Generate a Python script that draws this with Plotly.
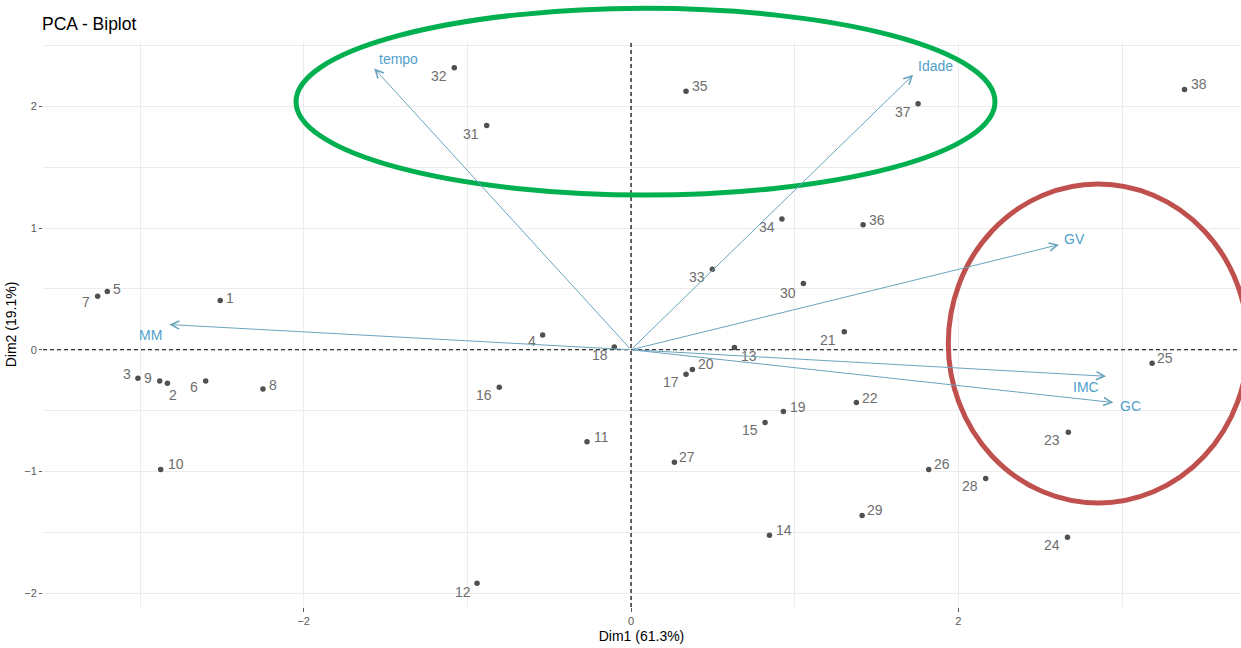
import plotly.graph_objects as go

# ---------------- data ----------------
ind_labels = [str(i) for i in range(1, 39)]
dim1 = [-2.510, -2.833, -3.013, -0.540, -3.200, -2.599, -3.259, -2.249, -2.880, -2.874,
        -0.269, -0.941, 0.632, 0.846, 0.819, -0.805, 0.336, -0.102, 0.931, 0.375,
        1.303, 1.377, 2.672, 2.667, 3.184, 1.819, 0.265, 2.167, 1.412, 1.053,
        -0.882, -1.080, 0.497, 0.922, 0.336, 1.418, 1.754, 3.382]
dim2 = [0.404, -0.275, -0.234, 0.122, 0.478, -0.256, 0.439, -0.322, -0.256, -0.984,
        -0.757, -1.920, 0.018, -1.526, -0.598, -0.308, -0.201, 0.023, -0.508, -0.163,
        0.148, -0.434, -0.678, -1.542, -0.111, -0.984, -0.926, -1.058, -1.362, 0.544,
        1.844, 2.318, 0.661, 1.074, 2.126, 1.028, 2.022, 2.140]

var_names = ["MM", "tempo", "Idade", "GV", "IMC", "GC"]
var_dim1 = [-2.821, -1.569, 1.724, 2.615, 2.903, 2.947]
var_dim2 = [0.207, 2.312, 2.260, 0.864, -0.218, -0.434]

x_title = "Dim1 (61.3%)"
y_title = "Dim2 (19.1%)"
chart_title = "PCA - Biplot"

# ---------------- label placement (pixel offsets, dx right, dy down) ----------------
ind_label_offsets = [
    (10, -3), (6, 12), (-11, -4), (-11, 6), (10, -3), (-12, 6), (-12, 6), (10, -4), (-12, -3), (15, -5),
    (14, -5), (-14, 9), (15, 8), (15, -5), (-15, 8), (-15, 8), (-15, 8), (-14, 8), (15, -5), (14, -6),
    (-16, 8), (14, -5), (-16, 8), (-16, 8), (13, -5), (13, -5), (13, -5), (-16, 8), (13, -5), (-15, 9),
    (-16, 9), (-15, 8), (-15, 8), (-15, 8), (14, -5), (14, -5), (-15, 8), (14, -5),
]
var_label_offsets = [(-19, 10), (24, -10), (22, -9), (16, -6), (-20, 11), (17, 3)]

ind_color = "#505050"
ind_text_color = "#6e6e6e"
var_line_color = "#6aa3bd"
var_text_color = "#4f9fca"
FONT = "Liberation Sans, Arial, sans-serif"

fig = go.Figure()

fig.add_trace(go.Scatter(
    x=dim1, y=dim2, mode="markers",
    marker=dict(color=ind_color, size=5.5),
    hoverinfo="text", text=ind_labels, showlegend=False,
))

annotations = []
for lab, xv, yv, (dx, dy) in zip(ind_labels, dim1, dim2, ind_label_offsets):
    annotations.append(dict(
        x=xv, y=yv, xref="x", yref="y", text=lab, showarrow=False,
        xshift=dx, yshift=-dy, xanchor="center", yanchor="middle",
        font=dict(family=FONT, size=14, color=ind_text_color),
    ))

for name, xv, yv, (dx, dy) in zip(var_names, var_dim1, var_dim2, var_label_offsets):
    annotations.append(dict(
        x=xv, y=yv, xref="x", yref="y", ax=0, ay=0, axref="x", ayref="y",
        text="", showarrow=True, arrowhead=5, arrowsize=1.6, arrowwidth=1,
        arrowcolor=var_line_color, standoff=0,
    ))
    annotations.append(dict(
        x=xv, y=yv, xref="x", yref="y", text=name, showarrow=False,
        xshift=dx, yshift=-dy, xanchor="center", yanchor="middle",
        font=dict(family=FONT, size=14, color=var_text_color),
    ))

shapes = [
    dict(type="line", xref="x", yref="paper", x0=0, x1=0, y0=0, y1=1,
         line=dict(color="black", width=1.2, dash="4px,3px"), layer="above"),
    dict(type="line", xref="paper", yref="y", x0=0, x1=1, y0=0, y1=0,
         line=dict(color="black", width=1.2, dash="4px,3px"), layer="above"),
    # highlight ellipses
    dict(type="circle", xref="paper", yref="paper", x0=0.2114, x1=0.7953, y0=0.7292, y1=1.0596,
         line=dict(color="#00B050", width=5)),
    dict(type="circle", xref="paper", yref="paper", x0=0.7563, x1=1.0067, y0=0.1841, y1=0.7487,
         line=dict(color="#C0504D", width=5)),
]

axis_font = dict(family=FONT, size=11, color="#5a5a5a")
grid_col = "#ececec"

fig.update_layout(
    width=1241, height=648,
    margin=dict(l=43, r=1, t=42, b=41, autoexpand=False),
    paper_bgcolor="white", plot_bgcolor="white",
    title=dict(text=chart_title, x=42 / 1241, xref="container", xanchor="left",
               y=1 - 24 / 648, yref="container", yanchor="middle",
               font=dict(family=FONT, size=17.5, color="black")),
    annotations=annotations, shapes=shapes,
    xaxis=dict(
        range=[-3.593, 3.721], tickmode="linear", tick0=0, dtick=2,
        showgrid=True, gridcolor=grid_col, gridwidth=1, zeroline=False,
        minor=dict(dtick=1, tick0=0, showgrid=True, gridcolor=grid_col, gridwidth=1),
        ticks="outside", ticklen=4, tickcolor="#5a5a5a", tickwidth=1,
        tickfont=axis_font, showline=False, automargin=False,
        title=dict(text=x_title, standoff=4, font=dict(family=FONT, size=14, color="black")),
    ),
    yaxis=dict(
        range=[-2.115, 2.53], tickmode="linear", tick0=0, dtick=1,
        showgrid=True, gridcolor=grid_col, gridwidth=1, zeroline=False,
        minor=dict(dtick=0.5, tick0=0, showgrid=True, gridcolor=grid_col, gridwidth=1),
        ticks="outside", ticklen=3, tickcolor="#5a5a5a", tickwidth=1,
        tickfont=axis_font, showline=False, automargin=False,
        title=dict(text=y_title, standoff=4, font=dict(family=FONT, size=14, color="black")),
    ),
)

fig.write_html(
    "out.html",
    config={"displayModeBar": False},
    post_script="document.body.style.margin='0';document.body.style.overflow='hidden';",
)
